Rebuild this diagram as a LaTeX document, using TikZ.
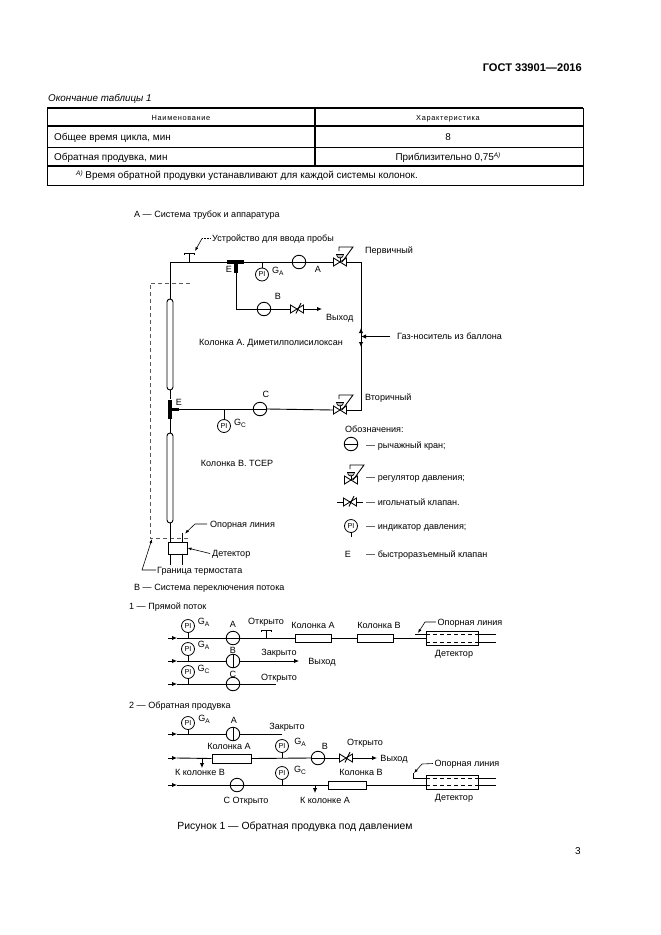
\documentclass[tikz,border=0pt]{standalone}
\usepackage{fontspec}
\setmainfont{Liberation Sans}
\usetikzlibrary{arrows.meta}
\newcommand{\gsub}[1]{G\raisebox{-2pt}{\fontsize{6.6}{6.6}\selectfont #1}}
\tikzset{
  pipe/.style={line width=0.9pt,line cap=butt},
  flow/.style={pipe,-{Latex[length=5pt,width=4.5pt]}},
  lead/.style={line width=0.6pt,-{Latex[length=4pt,width=3pt]}},
  bound/.style={line width=0.6pt,dash pattern=on 4pt off 3pt,black!65},
  txt/.style={inner sep=0pt,text height=7pt,text depth=0.7pt,font=\fontsize{9.05}{10}\selectfont},
  tabtxt/.style={inner sep=0pt,text height=7.6pt,text depth=0.8pt,font=\fontsize{9.9}{11}\selectfont},
  lever/.style={circle,draw,line width=0.9pt,minimum size=13.5pt,inner sep=0pt,
    path picture={\draw[line width=0.9pt] (path picture bounding box.west) -- (path picture bounding box.east);}},
  shut/.style={circle,draw,line width=0.9pt,minimum size=13.5pt,inner sep=0pt,
    path picture={\draw[line width=1pt] (path picture bounding box.north) -- (path picture bounding box.south);}},
  pind/.style={circle,draw,line width=0.8pt,minimum size=13pt,inner sep=0pt,font=\fontsize{7.2}{8}\selectfont},
  colbox/.style={rectangle,draw,line width=1pt,inner sep=0pt},
  tube/.style={rectangle,rounded corners=3pt,draw,line width=0.9pt,minimum width=6pt,inner sep=0pt},
  ebar/.style={rectangle,fill=black,inner sep=0pt},
  needle/.pic={
    \draw[line width=0.85pt] (-6.5,-4) -- (6.5,4) -- (6.5,-4) -- (-6.5,4) -- cycle;
    \draw[line width=0.9pt] (-1,4.5) -- (4,-6);
    \coordinate (-w) at (-6.5,0); \coordinate (-e) at (6.5,0);
  },
  regul/.pic={
    \draw[line width=0.85pt] (-6.5,-4) -- (6.5,4) -- (6.5,-4) -- (-6.5,4) -- cycle;
    \draw[line width=0.85pt] (0,0) -- (0,-7);
    \draw[line width=0.7pt,fill=black!25] (-3.5,-7.5) arc[start angle=180,end angle=0,radius=3.5] -- cycle;
    \draw[line width=0.85pt] (-1,-11) -- (-1,-15) -- (13,-15) -- (2,0);
    \coordinate (-w) at (-6.5,0); \coordinate (-e) at (6.5,0);
  },
  sampler/.pic={
    \draw[line width=0.95pt] (-5,1.5) -- (-5,0) -- (5,0) -- (5,1.5);
    \coordinate (-s) at (0,0);
  }
}
\begin{document}
\begin{tikzpicture}[x=1pt,y=-1pt]
\useasboundingbox[fill=white] (0,0) rectangle (661,935);
% page header
\node[inner sep=0pt,anchor=east,font=\fontsize{11.1}{13}\selectfont\bfseries] (gost) at (582,68) {ГОСТ 33901—2016};
\node[tabtxt,anchor=west,font=\fontsize{9.8}{11}\selectfont\itshape] (tabcap) at (48,98) {Окончание таблицы 1};
% table
\draw[line width=0.9pt] (47,108) rectangle (583,185);
\draw[line width=1.3pt] (47,108) -- (583,108);
\draw[line width=1.7pt] (47,126) -- (583,126);
\draw[line width=0.9pt] (47,147) -- (583,147);
\draw[line width=1.1pt] (47,166) -- (583,166);
\draw[line width=1.1pt] (315,108) -- (315,166);
\node[tabtxt,font=\fontsize{7.4}{8}\selectfont\addfontfeature{LetterSpace=9}] (th1) at (181,117) {Наименование};
\node[tabtxt,font=\fontsize{7.4}{8}\selectfont\addfontfeature{LetterSpace=9}] (th2) at (448,117) {Характеристика};
\node[tabtxt,anchor=west] (r1) at (54,137) {Общее время цикла, мин};
\node[tabtxt] (r1v) at (448,137) {8};
\node[tabtxt,anchor=west] (r2) at (54,157) {Обратная продувка, мин};
\node[tabtxt] (r2v) at (448,157) {Приблизительно 0,75\raisebox{3pt}{\fontsize{6.5}{7}\selectfont\itshape A)}};
\node[tabtxt,anchor=west] (fn) at (76,175) {\raisebox{3pt}{\fontsize{6.5}{7}\selectfont\itshape A)} Время обратной продувки устанавливают для каждой системы колонок.};

% ---------- system A
\node[txt,anchor=west] (ta) at (134,214) {А — Система трубок и аппаратура};
\node[txt,anchor=west] (tsam) at (212,238.5) {Устройство для ввода пробы};
\node[txt,anchor=west] (tperv) at (365,250) {Первичный};
\node[txt,anchor=west] (tvyh) at (326,317) {Выход};
\node[txt] (tkola) at (271,342) {Колонка А. Диметилполисилоксан};
\node[txt,anchor=west] (tgas) at (397,336) {Газ-носитель из баллона};
\node[txt,anchor=west] (tvtor) at (365,397) {Вторичный};
\node[txt] (tkolb) at (237,463) {Колонка В. ТСЕР};
\node[txt,anchor=west] (tref) at (210,524) {Опорная линия};
\node[txt,anchor=west] (tdet) at (212,553.5) {Детектор};
\node[txt,anchor=west] (tgr) at (157,570) {Граница термостата};
\node[txt,anchor=west] (tb) at (134,587) {В — Система переключения потока};
\node[txt] (le1) at (229,269) {Е};
\node[txt] (le2) at (179,402) {Е};
\node[txt] (lA) at (318,269) {А};
\node[txt] (lB) at (278,296) {В};
\node[txt] (lC) at (266,394) {С};
\node[txt,anchor=west] (gA) at (272,270) {\gsub{A}};
\node[txt,anchor=west] (gC) at (234,422) {\gsub{C}};

% boundary
\draw[bound] (190,283) -- (150,283) -- (150,538) -- (190,538);

% named points
\coordinate (tl) at (170,262);
\coordinate (tr) at (361,262);
\coordinate (br) at (361,410);
\coordinate (jga) at (262,262);
\coordinate (jgc) at (224,409);
\coordinate (bl) at (236,309);
\coordinate (gasin) at (361,336.5);
\coordinate (gasfrom) at (390,336.5);
\coordinate (gasup) at (361,328);
\coordinate (gasdn) at (361,347);
\coordinate (vyh) at (322,309);

\pic (sam) at (189,253) {sampler};
\pic (rega) at (340,262) {regul};
\pic (regc) at (340,410) {regul};
\pic (nb) at (297,309) {needle};
\node[ebar,minimum width=17pt,minimum height=4pt] (etop) at (235.5,262) {};
\node[ebar,minimum width=4pt,minimum height=9pt] (etops) at (236,268) {};
\node[ebar,minimum width=4pt,minimum height=19pt] (emid) at (170,409) {};
\node[ebar,minimum width=8pt,minimum height=3pt] (emids) at (175,409) {};
\node[tube,minimum height=91pt] (cola) at (170,344.5) {};
\node[tube,minimum height=90pt] (colb) at (170,478) {};
\node[colbox,minimum width=19pt,minimum height=12pt] (det) at (177.5,548) {};
\node[lever] (va) at (299,262) {};
\node[lever] (vb) at (264,309) {};
\node[lever] (vc) at (260,409) {};
\node[pind] (pa) at (262,274.5) {PI};
\node[pind] (pc) at (224,426) {PI};

\coordinate (detl) at (170,542);
\coordinate (detlo) at (170,554);
\coordinate (detlb) at (170,565);
\coordinate (detr) at (182,542);
\coordinate (detrt) at (182,533);
\coordinate (detro) at (182,554);
\coordinate (detrb) at (182,565);

\draw[pipe] (cola.north) -- (tl) -- (etop.west);
\draw[pipe] (etop.east) -- (va.west);
\draw[pipe] (va.east) -- (rega-w);
\draw[pipe] (rega-e) -- (tr) -- (br) -- (regc-e);
\draw[pipe] (regc-w) -- (vc.east);
\draw[pipe] (vc.west) -- (emids.east);
\draw[pipe] (sam-s) -- (189,262);
\draw[pipe] (jga) -- (pa.north);
\draw[pipe] (jgc) -- (pc.north);
\draw[pipe] (etops.south) -- (bl) -- (vb.west);
\draw[pipe] (vb.east) -- (nb-w);
\draw[flow] (nb-e) -- (vyh);
\draw[pipe] (cola.south) -- (emid.north);
\draw[pipe] (emid.south) -- (colb.north);
\draw[pipe] (colb.south) -- (detl);
\draw[pipe] (detrt) -- (detr);
\draw[pipe] (detlo) -- (detlb);
\draw[pipe] (detro) -- (detrb);
\draw[flow] (gasfrom) -- (gasin);
\draw[flow] (gasin) -- (gasup);
\draw[flow] (gasin) -- (gasdn);

% leaders
\draw[line width=0.6pt,densely dotted] (tsam.west) ++(-1.5,0) -- (202,238.5);
\draw[lead] (202,238.5) -- (195,251);
\draw[lead] (207,524) -- (195,524) -- (185,533.5);
\draw[lead] (tdet.west) ++(-2,0) -- (det.east);
\draw[lead] (tgr.west) ++(-1,0) -- (142,570) -- (152,539);

% ---------- legend
\node[txt,anchor=west] (tleg) at (345,429) {Обозначения:};
\node[lever] (sl) at (351,444) {};
\node[txt,anchor=west] (t1) at (366,445) {— рычажный кран;};
\pic (sr) at (351,480) {regul};
\node[txt,anchor=west] (t2) at (366,477) {— регулятор давления;};
\pic (sn) at (350,502) {needle};
\coordinate (snl) at (337,502);
\coordinate (snr) at (363,502);
\draw[pipe] (snl) -- (sn-w);
\draw[pipe] (sn-e) -- (snr);
\node[txt,anchor=west] (t3) at (366,502) {— игольчатый клапан.};
\node[pind] (sp) at (351,526) {PI};
\coordinate (spb) at (351,537);
\draw[pipe] (sp.south) -- (spb);
\node[txt,anchor=west] (t4) at (366,526) {— индикатор давления;};
\node[txt] (se) at (348,554) {Е};
\node[txt,anchor=west] (t5) at (366,554) {— быстроразъемный клапан};

% ---------- mode 1
\node[txt,anchor=west] (t1h) at (129,606) {1 — Прямой поток};
\node[txt] at (203.5,621) (g11) {\gsub{A}};
\node[txt] at (203.5,644) (g12) {\gsub{A}};
\node[txt] at (203.5,668) (g13) {\gsub{C}};
\node[txt] (l1a) at (233,624) {А};
\node[txt] (l1b) at (233,650) {В};
\node[txt] (l1c) at (233,674) {С};
\node[txt] (l1o) at (266,621) {Открыто};
\node[txt] (l1z) at (279,652) {Закрыто};
\node[txt] (l1o2) at (279,677) {Открыто};
\node[txt] (l1ca) at (313,625) {Колонка А};
\node[txt] (l1cb) at (379,625) {Колонка В};
\node[txt] (l1r) at (470,622) {Опорная линия};
\node[txt] (l1d) at (454,653) {Детектор};
\node[txt] (l1v) at (322,661) {Выход};

\coordinate (a1s) at (168,638);
\coordinate (a1i) at (177,638);
\coordinate (a1j) at (188,638);
\coordinate (b1s) at (168,661);
\coordinate (b1i) at (177,661);
\coordinate (b1j) at (188,661);
\coordinate (b1e) at (299,661);
\coordinate (c1s) at (168,684);
\coordinate (c1i) at (177,684);
\coordinate (c1j) at (188,684);
\coordinate (c1e) at (276,684);
\node[pind] (p1a) at (188,626) {PI};
\node[pind] (p1b) at (188,649) {PI};
\node[pind] (p1c) at (188,672) {PI};
\node[lever] (v1a) at (233,638) {};
\node[shut] (v1b) at (233,661) {};
\node[lever] (v1c) at (233,684) {};
\pic (s1) at (266,630) {sampler};
\coordinate (s1j) at (266,638);
\node[colbox,minimum width=36pt,minimum height=8pt] (c1a) at (313,638) {};
\node[colbox,minimum width=36pt,minimum height=8pt] (c1b) at (375,638) {};
\node[colbox,minimum width=52pt,minimum height=14pt] (d1) at (452,638) {};
\coordinate (d1re) at (415,634);
\coordinate (d1r) at (426,634);
\coordinate (d1t) at (478,634);
\coordinate (d1b) at (478,642);
\coordinate (d1te) at (496,634);
\coordinate (d1be) at (496,642);
\coordinate (d1ti) at (426,634);
\coordinate (d1bi) at (426,642);
\draw[flow] (a1s) -- (a1i);
\draw[pipe] (a1i) -- (v1a.west);
\draw[pipe] (v1a.east) -- (c1a.west);
\draw[pipe] (c1a.east) -- (c1b.west);
\draw[pipe] (c1b.east) -- (d1.west);
\draw[pipe] (d1re) -- (d1r);
\draw[pipe] (d1t) -- (d1te);
\draw[pipe] (d1b) -- (d1be);
\draw[line width=0.55pt,dash pattern=on 4pt off 3pt] (d1ti) -- (d1t);
\draw[line width=0.55pt,dash pattern=on 4pt off 3pt] (d1bi) -- (d1b);
\draw[pipe] (s1-s) -- (s1j);
\draw[pipe] (p1a.south) -- (a1j);
\draw[flow] (b1s) -- (b1i);
\draw[pipe] (b1i) -- (v1b.west);
\draw[flow] (v1b.east) -- (b1e);
\draw[pipe] (p1b.south) -- (b1j);
\draw[flow] (c1s) -- (c1i);
\draw[pipe] (c1i) -- (v1c.west);
\draw[pipe] (v1c.east) -- (c1e);
\draw[pipe] (p1c.south) -- (c1j);
\draw[lead] (l1r.west) ++(-1.5,0) -- (425,622) -- (418,633);

% ---------- mode 2
\node[txt,anchor=west] (t2h) at (129,705) {2 — Обратная продувка};
\node[txt] (g21) at (204,718) {\gsub{A}};
\node[txt] (g22) at (300,741) {\gsub{A}};
\node[txt] (g23) at (300,769) {\gsub{C}};
\node[txt] (l2a) at (234,720) {А};
\node[txt] (l2z) at (287,726) {Закрыто};
\node[txt] (l2ca) at (229,746) {Колонка А};
\node[txt] (l2kb) at (200,772) {К колонке В};
\node[txt] (l2b) at (325,746) {В};
\node[txt] (l2o) at (365,742) {Открыто};
\node[txt] (l2v) at (394,758) {Выход};
\node[txt] (l2cb) at (361,772) {Колонка В};
\node[txt] (l2ka) at (325,800) {К колонке А};
\node[txt] (l2c) at (246,800) {С Открыто};
\node[txt] (l2r) at (467,763.5) {Опорная линия};
\node[txt] (l2d) at (454,797) {Детектор};

\coordinate (a2s) at (168,734);
\coordinate (a2i) at (177,734);
\coordinate (a2j) at (188,734);
\coordinate (a2e) at (282,734);
\coordinate (b2s) at (168,758);
\coordinate (b2i) at (177,758);
\coordinate (b2d) at (202,758);
\coordinate (b2dd) at (202,768);
\coordinate (b2j) at (282,758);
\coordinate (b2e) at (377,758);
\coordinate (c2s) at (168,785);
\coordinate (c2i) at (177,785);
\coordinate (c2j) at (282,785);
\coordinate (c2d) at (315,785);
\coordinate (c2dd) at (315,793);
\node[pind] (p2a) at (188,723) {PI};
\node[pind] (p2b) at (282,746) {PI};
\node[pind] (p2c) at (282,773) {PI};
\node[shut] (v2a) at (233,734) {};
\node[lever] (v2b) at (318,758) {};
\node[lever] (v2c) at (237,785) {};
\pic (n2) at (346,758) {needle};
\node[colbox,minimum width=39pt,minimum height=9pt] (c2a) at (231.5,758.5) {};
\node[colbox,minimum width=38pt,minimum height=8pt] (c2b) at (347,785) {};
\node[colbox,minimum width=52pt,minimum height=14pt] (d2) at (452,782) {};
\coordinate (d2re) at (413,778);
\coordinate (d2rc) at (413,773);
\coordinate (d2r) at (426,778);
\coordinate (d2t) at (478,778);
\coordinate (d2b) at (478,785);
\coordinate (d2te) at (496,778);
\coordinate (d2be) at (496,785);
\coordinate (d2bi) at (426,785);
\draw[flow] (a2s) -- (a2i);
\draw[pipe] (a2i) -- (v2a.west);
\draw[pipe] (v2a.east) -- (a2e);
\draw[pipe] (p2a.south) -- (a2j);
\draw[flow] (b2s) -- (b2i);
\draw[pipe] (b2i) -- (c2a.west);
\draw[flow] (b2d) -- (b2dd);
\draw[pipe] (c2a.east) -- (v2b.west);
\draw[pipe] (p2b.south) -- (b2j);
\draw[pipe] (v2b.east) -- (n2-w);
\draw[flow] (n2-e) -- (b2e);
\draw[flow] (c2s) -- (c2i);
\draw[pipe] (c2i) -- (v2c.west);
\draw[pipe] (v2c.east) -- (c2b.west);
\draw[pipe] (p2c.south) -- (c2j);
\draw[flow] (c2d) -- (c2dd);
\draw[pipe] (c2b.east) -- (d2bi);
\draw[pipe] (d2rc) -- (d2re) -- (d2r);
\draw[pipe] (d2t) -- (d2te);
\draw[pipe] (d2b) -- (d2be);
\draw[line width=0.55pt,dash pattern=on 4pt off 3pt] (d2bi) -- (d2b);
\draw[line width=0.55pt,dash pattern=on 4pt off 3pt] (d2r) -- (d2t);
\draw[lead] (l2r.west) ++(-1.5,0) -- (422,764) -- (414,773);

% caption
\node[inner sep=0pt,font=\fontsize{10.4}{12}\selectfont] (cap) at (295,827) {Рисунок 1 — Обратная продувка под давлением};
\node[inner sep=0pt,font=\fontsize{10}{11}\selectfont] (pg) at (578,851) {3};
\end{tikzpicture}
\end{document}
